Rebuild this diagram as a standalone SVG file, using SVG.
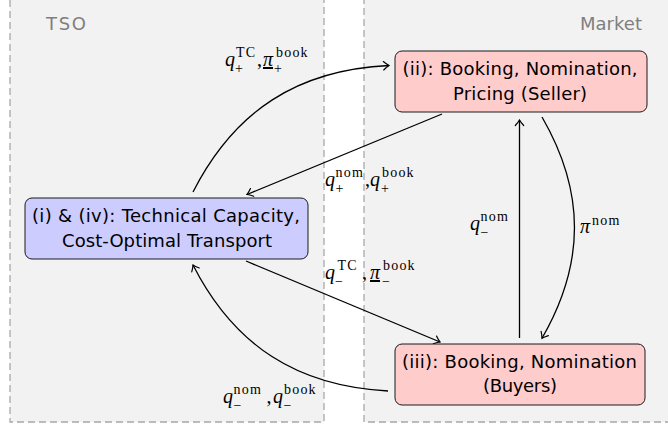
<svg xmlns="http://www.w3.org/2000/svg" width="668" height="425" viewBox="0 0 668 425">
<style>
.panel{fill:#f2f2f2;stroke:#a8a8a8;stroke-width:1.3;stroke-dasharray:7 4}
.plabel{font-family:"DejaVu Sans",sans-serif;font-size:18px;fill:#7f7f7f}
.node{stroke:#1a1a1a;stroke-width:1}
.ntext{font-family:"DejaVu Sans",sans-serif;font-size:18px;fill:#000;text-anchor:middle}
.edge{fill:none;stroke:#000;stroke-width:1.3}
.m{font-family:"Liberation Serif",serif;font-size:20px;fill:#000}
.i{font-style:italic}
.s{font-family:"Liberation Serif",serif;font-size:14px;letter-spacing:1.2px}
.u{text-decoration:underline}
</style>
<defs>
<marker id="ah" markerUnits="userSpaceOnUse" viewBox="-7 -6 9 12" refX="0" refY="0" markerWidth="9" markerHeight="12" orient="auto" overflow="visible">
<path d="M-5.5,-4.2 Q-2.2,-1.2 0,0 Q-2.2,1.2 -5.5,4.2" fill="none" stroke="#000" stroke-width="1.2" stroke-linecap="round"/>
</marker>
</defs>
<rect width="668" height="425" fill="#fff"/>
<g id="panel-tso">
<rect class="panel" x="10" y="-20" width="314" height="442"/>
<text class="plabel" x="46" y="30" textLength="40">TSO</text>
</g>
<g id="panel-market">
<rect class="panel" x="364" y="-20" width="340" height="442"/>
<text class="plabel" x="580" y="30" textLength="62">Market</text>
</g>
<g id="connectors">
<path class="edge" d="M193,192 C234.5,110.6 297.7,69.8 389,65.5" marker-end="url(#ah)"/>
<path class="edge" d="M442,114 L247,194.5" marker-end="url(#ah)"/>
<path class="edge" d="M246,261 L440,342" marker-end="url(#ah)"/>
<path class="edge" d="M388,391 C297.3,386.3 234.2,345.9 193,265" marker-end="url(#ah)"/>
<path class="edge" d="M519.5,338 L519.5,120" marker-end="url(#ah)"/>
<path class="edge" d="M542,117 C585.3,191.9 585.3,263.1 542,338.3" marker-end="url(#ah)"/>
<text class="m">
<tspan class="i" x="225" y="66">q</tspan><tspan class="s" x="236" y="57">TC</tspan><tspan class="s" x="235" y="73">+</tspan><tspan x="257" y="66">,</tspan><tspan class="i u" x="263" y="66">π</tspan><tspan class="s" x="276" y="57">book</tspan><tspan class="s" x="274" y="73">+</tspan>
</text>
<text class="m">
<tspan class="i" x="325" y="186">q</tspan><tspan class="s" x="335.5" y="177">nom</tspan><tspan class="s" x="335.5" y="193">+</tspan><tspan x="365" y="186">,</tspan><tspan class="i" x="370" y="186">q</tspan><tspan class="s" x="382" y="177">book</tspan><tspan class="s" x="381" y="193">+</tspan>
</text>
<text class="m">
<tspan class="i" x="325" y="279">q</tspan><tspan class="s" x="337.5" y="270">TC</tspan><tspan class="s" x="335" y="286">−</tspan><tspan x="362" y="279">,</tspan><tspan class="i u" x="370" y="279">π</tspan><tspan class="s" x="383" y="270">book</tspan><tspan class="s" x="382" y="286">−</tspan>
</text>
<text class="m">
<tspan class="i" x="223" y="403">q</tspan><tspan class="s" x="233.5" y="394">nom</tspan><tspan class="s" x="233.5" y="410">−</tspan><tspan x="266.5" y="403">,</tspan><tspan class="i" x="273" y="403">q</tspan><tspan class="s" x="284" y="394">book</tspan><tspan class="s" x="283.5" y="410">−</tspan>
</text>
<text class="m">
<tspan class="i" x="470" y="230">q</tspan><tspan class="s" x="480.5" y="221">nom</tspan><tspan class="s" x="480.5" y="237">−</tspan>
</text>
<text class="m">
<tspan class="i" x="580" y="233">π</tspan><tspan class="s" x="592" y="225">nom</tspan>
</text>
</g>
<g id="node-tso">
<rect class="node" x="25" y="198" width="283" height="61" rx="7" fill="#ccccff"/>
<text class="ntext" x="166" y="222" textLength="268">(i) &amp; (iv): Technical Capacity,</text>
<text class="ntext" x="167" y="246.5" textLength="210">Cost-Optimal Transport</text>
</g>
<g id="node-seller">
<rect class="node" x="395" y="51" width="252" height="61" rx="7" fill="#ffcccc"/>
<text class="ntext" x="520" y="75" textLength="235">(ii): Booking, Nomination,</text>
<text class="ntext" x="520" y="99.5" textLength="134">Pricing (Seller)</text>
</g>
<g id="node-buyers">
<rect class="node" x="395" y="344" width="250" height="61" rx="7" fill="#ffcccc"/>
<text class="ntext" x="519.5" y="368" textLength="235">(iii): Booking, Nomination</text>
<text class="ntext" x="520" y="392" textLength="74">(Buyers)</text>
</g>
</svg>
